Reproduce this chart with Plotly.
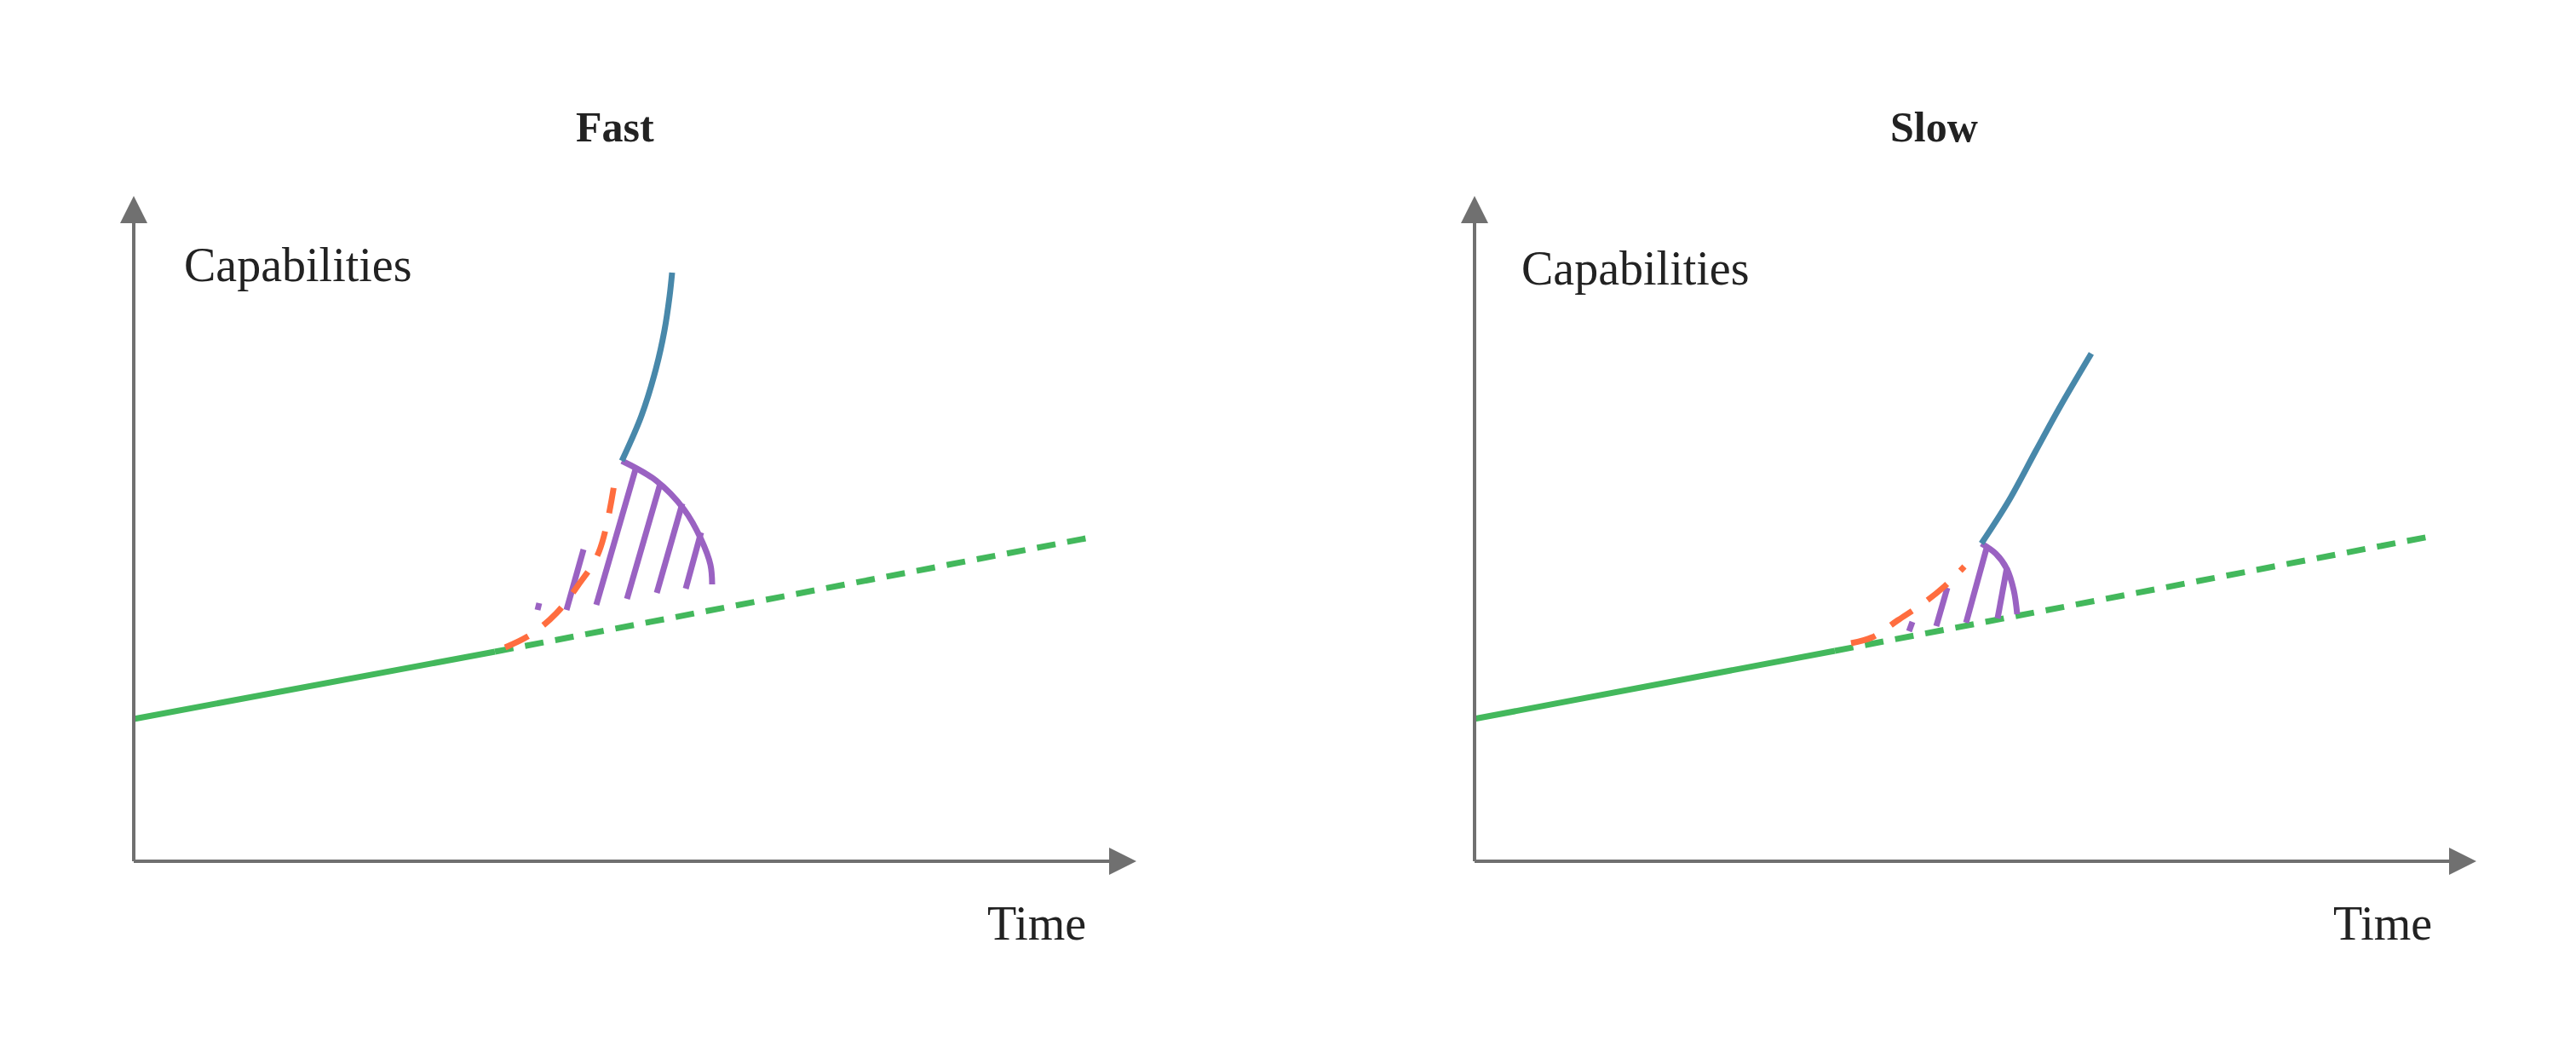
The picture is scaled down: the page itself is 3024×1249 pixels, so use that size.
import plotly.graph_objects as go

# canvas coordinates follow the reference picture (pixels)
W, H = 3024, 1249
GREEN = "#43b85c"
ORANGE = "#ff6d3f"
BLUE = "#4888aa"
PURPLE = "#9a62c2"
GREY = "#707070"

# ---- Fast panel ----
fast_origin = (149, 1003)
fast_xtip = 1326
fast_ytip = 222
fast_green_solid_x = [149, 573]
fast_green_solid_y = [836, 757]
fast_green_dash_x = [573, 1277]
fast_green_dash_y = [757, 622]
fast_orange_x = [585, 615, 645, 670, 695, 715]
fast_orange_y = [752, 737, 712, 680, 640, 548]
fast_blue_x = [722, 745, 762, 772, 778, 781]
fast_blue_y = [533, 480, 425, 380, 340, 312]
fast_arc_x = [722, 762, 795, 815, 826, 828]
fast_arc_y = [533, 556, 590, 625, 655, 678]
fast_hatch = [((623, 708), (625, 700)), ((657, 708), (677, 637)),
              ((692, 702), (738, 543)), ((728, 695), (767, 560)),
              ((763, 688), (793, 583)), ((797, 683), (815, 617))]

# ---- Slow panel ----
slow_origin = (1723, 1003)
slow_xtip = 2899
slow_ytip = 222
slow_green_solid_x = [1722, 2146]
slow_green_solid_y = [836, 756]
slow_green_dash_x = [2146, 2849]
slow_green_dash_y = [756, 621]
slow_orange_x = [2165, 2190, 2220, 2250, 2275, 2298]
slow_orange_y = [747, 740, 720, 700, 680, 657]
slow_blue_x = [2318, 2350, 2382, 2410, 2447]
slow_blue_y = [630, 580, 521, 470, 407]
slow_arc_x = [2318, 2335, 2348, 2356, 2360]
slow_arc_y = [630, 642, 660, 685, 713]
slow_hatch = [((2233, 733), (2237, 722)), ((2265, 727), (2278, 682)),
              ((2300, 723), (2325, 632)), ((2337, 718), (2348, 658))]

titles = [("Fast", 714), ("Slow", 2262)]
ylabels = [("Capabilities", 206, 303), ("Capabilities", 1776, 307)]
xlabels = [("Time", 1269, 1076), ("Time", 2849, 1076)]

fig = go.Figure()


def line(x, y, color, dash="solid", width=7):
    fig.add_trace(go.Scatter(x=x, y=y, mode="lines", hoverinfo="skip",
                             line=dict(color=color, width=width, dash=dash,
                                       shape="spline")))


def panel(origin, xtip, ytip, gs, gd, orx, ory, blx, bly, arx, ary, hatch):
    ox, oy = origin
    line([ox, xtip - 40], [oy, oy], GREY, width=4)
    line([ox, ox], [oy, ytip + 40], GREY, width=4)
    for ax_, ay_, x_, y_ in [(ox, oy, xtip, oy), (ox, oy, ox, ytip)]:
        fig.add_annotation(x=x_, y=y_, ax=ax_, ay=ay_, xref="x", yref="y",
                           axref="x", ayref="y", showarrow=True, text="",
                           arrowhead=2, arrowsize=1.6, arrowwidth=4,
                           arrowcolor=GREY)
    line(gs[0], gs[1], GREEN)
    line(gd[0], gd[1], GREEN, dash="22px,14px")
    for (x0, y0), (x1, y1) in hatch:
        line([x0, x1], [y0, y1], PURPLE)
    line(orx, ory, ORANGE, dash="30px,22px")
    line(arx, ary, PURPLE)
    line(blx, bly, BLUE)


panel(fast_origin, fast_xtip, fast_ytip,
      (fast_green_solid_x, fast_green_solid_y),
      (fast_green_dash_x, fast_green_dash_y),
      fast_orange_x, fast_orange_y, fast_blue_x, fast_blue_y,
      fast_arc_x, fast_arc_y, fast_hatch)
panel(slow_origin, slow_xtip, slow_ytip,
      (slow_green_solid_x, slow_green_solid_y),
      (slow_green_dash_x, slow_green_dash_y),
      slow_orange_x, slow_orange_y, slow_blue_x, slow_blue_y,
      slow_arc_x, slow_arc_y, slow_hatch)

serif = "Liberation Serif"
for t, x in titles:
    fig.add_annotation(x=x, y=141, text="<b>" + t + "</b>", showarrow=False,
                       font=dict(family=serif, size=50, color="#222"))
for t, x, y in ylabels:
    fig.add_annotation(x=x, y=y, text=t, showarrow=False, xanchor="left",
                       font=dict(family=serif, size=56, color="#222"))
for t, x, y in xlabels:
    fig.add_annotation(x=x, y=y, text=t, showarrow=False, xanchor="right",
                       font=dict(family=serif, size=56, color="#222"))

fig.update_layout(width=W, height=H, margin=dict(l=0, r=0, t=0, b=0),
                  showlegend=False, plot_bgcolor="white", paper_bgcolor="white")
fig.update_xaxes(range=[0, W], visible=False)
fig.update_yaxes(range=[H, 0], visible=False)
fig.write_html("out.html")
